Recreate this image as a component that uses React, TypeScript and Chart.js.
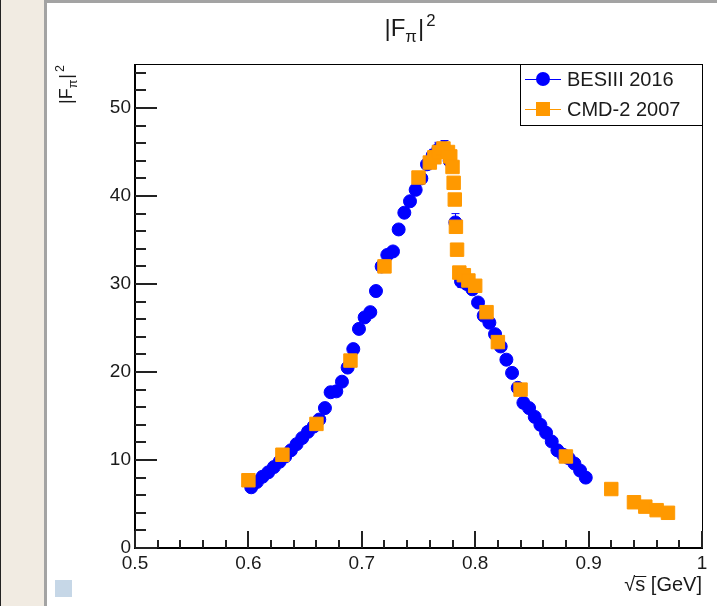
import React, { useEffect, useRef } from "react";
import { Chart, registerables } from "chart.js";

Chart.register(...registerables);

// ---- data ----
const besX = [
  0.6025, 0.6075, 0.6125, 0.6175, 0.6225, 0.6275, 0.6325, 0.6375, 0.6425, 0.6475,
  0.6525, 0.6575, 0.6625, 0.6675, 0.6725, 0.6775, 0.6825, 0.6875, 0.6925, 0.6975,
  0.7025, 0.7075, 0.7125, 0.7175, 0.7225, 0.7275, 0.7325, 0.7375, 0.7425, 0.7475,
  0.7525, 0.7575, 0.7625, 0.7675, 0.7725, 0.7775, 0.7825, 0.7875, 0.7925, 0.7975,
  0.8025, 0.8075, 0.8125, 0.8175, 0.8225, 0.8275, 0.8325, 0.8375, 0.8425, 0.8475,
  0.8525, 0.8575, 0.8625, 0.8675, 0.8725, 0.8775, 0.8825, 0.8875, 0.8925, 0.8975,
];
const besY = [
  6.9, 7.5, 8.1, 8.6, 9.2, 9.8, 10.4, 11.1, 11.8, 12.5,
  13.2, 13.8, 14.6, 15.9, 17.7, 17.8, 18.9, 20.5, 22.6, 24.9,
  26.2, 26.8, 29.2, 32.0, 33.3, 33.7, 36.2, 38.1, 39.4, 40.7,
  42.0, 43.6, 44.6, 45.3, 45.5, 44.0, 37.0, 30.3, 30.0, 29.4,
  27.9, 26.4, 25.6, 24.3, 22.9, 21.4, 19.9, 18.2, 16.5, 15.9,
  14.9, 14.0, 13.1, 12.1, 11.1, 10.6, 10.2, 9.6, 8.8, 8.0,
];
const besErr = [
  0.2, 0.2, 0.2, 0.2, 0.2, 0.2, 0.2, 0.2, 0.2, 0.2,
  0.2, 0.2, 0.2, 0.2, 0.3, 0.3, 0.3, 0.3, 0.3, 0.3,
  0.3, 0.3, 0.3, 0.4, 0.4, 0.4, 0.4, 0.4, 0.5, 0.5,
  0.5, 0.6, 0.7, 0.8, 0.8, 0.7, 1.0, 0.7, 0.5, 0.5,
  0.4, 0.4, 0.4, 0.3, 0.3, 0.3, 0.3, 0.3, 0.3, 0.3,
  0.2, 0.2, 0.2, 0.2, 0.2, 0.2, 0.2, 0.2, 0.2, 0.2,
];
const cmdX = [
  0.6, 0.63, 0.66, 0.69, 0.72, 0.75, 0.76, 0.764, 0.768, 0.772,
  0.776, 0.778, 0.78, 0.781, 0.782, 0.783, 0.784, 0.786, 0.79, 0.794,
  0.8, 0.81, 0.82, 0.84, 0.88, 0.92, 0.94, 0.95, 0.96, 0.97,
];
const cmdY = [
  7.7, 10.6, 14.1, 21.3, 32.0, 42.1, 43.8, 44.4, 45.0, 45.4,
  45.0, 44.5, 43.3, 41.5, 39.6, 36.5, 33.9, 31.3, 31.0, 30.4,
  29.8, 26.8, 23.4, 18.0, 10.4, 6.7, 5.2, 4.7, 4.3, 4.0,
];
const xTicks = [0.5, 0.6, 0.7, 0.8, 0.9, 1.0];
const xTickLabels = ["0.5", "0.6", "0.7", "0.8", "0.9", "1"];
const yTicks = [0, 10, 20, 30, 40, 50];
const seriesNames = ["BESIII 2016", "CMD-2 2007"];

const FONT = '"Liberation Sans", Arial, sans-serif';
const BLUE = "#0000ff";
const ORANGE = "#ff9900";
const TEXT = "#1a1a1a";

function drawFpi(ctx: CanvasRenderingContext2D, x: number, y: number, size: number) {
  const small = size * 0.7;
  let w = 0;
  ctx.font = `${size}px ${FONT}`;
  ctx.fillText("|F", x, y);
  w += ctx.measureText("|F").width;
  ctx.font = `${small}px ${FONT}`;
  ctx.fillText("\u03c0", x + w, y + size * 0.25);
  w += ctx.measureText("\u03c0").width + 1;
  ctx.font = `${size}px ${FONT}`;
  ctx.fillText("|", x + w, y);
  w += ctx.measureText("|").width + 2;
  ctx.font = `${small}px ${FONT}`;
  ctx.fillText("2", x + w, y - size * 0.42);
  w += ctx.measureText("2").width;
  return w;
}

function fpiWidth(ctx: CanvasRenderingContext2D, size: number) {
  const small = size * 0.7;
  ctx.font = `${size}px ${FONT}`;
  let w = ctx.measureText("|F").width + ctx.measureText("|").width + 3;
  ctx.font = `${small}px ${FONT}`;
  w += ctx.measureText("\u03c0").width + ctx.measureText("2").width;
  return w;
}

const rootPlugin = {
  id: "rootStyle",
  beforeDatasetsDraw(chart: any) {
    const ctx = chart.ctx as CanvasRenderingContext2D;
    const xs = chart.scales.x;
    const ys = chart.scales.y;
    ctx.save();
    ctx.strokeStyle = BLUE;
    ctx.lineWidth = 1;
    for (let i = 0; i < besX.length; i++) {
      const px = Math.round(xs.getPixelForValue(besX[i])) + 0.5;
      const top = ys.getPixelForValue(besY[i] + besErr[i]);
      const bot = ys.getPixelForValue(besY[i] - besErr[i]);
      ctx.beginPath();
      ctx.moveTo(px, top);
      ctx.lineTo(px, bot);
      ctx.moveTo(px - 4, top);
      ctx.lineTo(px + 4, top);
      ctx.moveTo(px - 4, bot);
      ctx.lineTo(px + 4, bot);
      ctx.stroke();
    }
    ctx.restore();
  },
  afterDraw(chart: any) {
    const ctx = chart.ctx as CanvasRenderingContext2D;
    const a = chart.chartArea;
    const xs = chart.scales.x;
    const ys = chart.scales.y;
    ctx.save();
    // frame
    ctx.strokeStyle = "#000";
    ctx.lineWidth = 1;
    ctx.strokeRect(a.left + 0.5, a.top + 0.5, a.right - a.left, a.bottom - a.top);
    ctx.lineWidth = 2;
    ctx.beginPath();
    ctx.moveTo(a.left, a.top);
    ctx.lineTo(a.left, a.bottom);
    ctx.lineTo(a.right + 1, a.bottom);
    ctx.stroke();
    // y ticks (inward)
    ctx.lineWidth = 2;
    ctx.strokeStyle = "#222";
    for (let v = 0; v <= 54; v += 2) {
      const py = Math.round(ys.getPixelForValue(v));
      const len = v % 10 === 0 ? 22 : 11;
      ctx.beginPath();
      ctx.moveTo(a.left, py);
      ctx.lineTo(a.left + len, py);
      ctx.stroke();
    }
    // x ticks (inward)
    for (let k = 0; k <= 25; k++) {
      const v = 0.5 + k * 0.02;
      const px = Math.round(xs.getPixelForValue(v));
      const len = k % 5 === 0 ? 17 : 8;
      ctx.beginPath();
      ctx.moveTo(px, a.bottom);
      ctx.lineTo(px, a.bottom - len);
      ctx.stroke();
    }
    // title
    ctx.fillStyle = TEXT;
    ctx.textBaseline = "alphabetic";
    ctx.textAlign = "left";
    const tw = fpiWidth(ctx, 24);
    drawFpi(ctx, 363 - tw / 2, 33, 24);
    // y axis title
    ctx.save();
    ctx.translate(25, 101);
    ctx.rotate(-Math.PI / 2);
    drawFpi(ctx, 0, 0, 18);
    ctx.restore();
    // x axis title
    ctx.font = `20px ${FONT}`;
    ctx.textAlign = "right";
    const xt = "\u221as [GeV]";
    ctx.fillText(xt, a.right, 588);
    const full = ctx.measureText(xt).width;
    const rest = ctx.measureText("s [GeV]").width;
    const sW = ctx.measureText("s").width;
    const sx = a.right - rest;
    ctx.lineWidth = 1;
    ctx.strokeStyle = TEXT;
    ctx.beginPath();
    ctx.moveTo(sx - 1, 573.5);
    ctx.lineTo(sx + sW + 1, 573.5);
    ctx.stroke();
    void full;
    // legend
    const lx = 473, ly = 61, lr = 655, lb = 122;
    ctx.fillStyle = "#fff";
    ctx.fillRect(lx, ly, lr - lx, lb - ly);
    ctx.strokeStyle = "#000";
    ctx.lineWidth = 1;
    ctx.strokeRect(lx + 0.5, ly + 0.5, lr - lx, lb - ly);
    const rows = [76, 106];
    const cols = [BLUE, ORANGE];
    for (let i = 0; i < 2; i++) {
      const cy = rows[i];
      ctx.strokeStyle = cols[i];
      ctx.lineWidth = 1;
      ctx.beginPath();
      ctx.moveTo(478, cy + 0.5);
      ctx.lineTo(514, cy + 0.5);
      ctx.stroke();
      ctx.fillStyle = cols[i];
      if (i === 0) {
        ctx.beginPath();
        ctx.arc(496, cy, 7, 0, Math.PI * 2);
        ctx.fill();
      } else {
        ctx.fillRect(489, cy - 7, 14, 14);
      }
      ctx.fillStyle = TEXT;
      ctx.font = `20px ${FONT}`;
      ctx.textAlign = "left";
      ctx.textBaseline = "middle";
      ctx.fillText(seriesNames[i], 520, cy + 1);
    }
    ctx.restore();
  },
};

export default function App() {
  const ref = useRef<HTMLCanvasElement | null>(null);
  useEffect(() => {
    if (!ref.current) return;
    const chart = new Chart(ref.current, {
      type: "scatter",
      data: {
        datasets: [
          {
            label: seriesNames[0],
            data: besX.map((x, i) => ({ x, y: besY[i] })),
            backgroundColor: BLUE,
            borderColor: BLUE,
            pointStyle: "circle",
            pointRadius: 6.5,
            pointBorderWidth: 1,
            order: 1,
          },
          {
            label: seriesNames[1],
            data: cmdX.map((x, i) => ({ x, y: cmdY[i] })),
            backgroundColor: ORANGE,
            borderColor: ORANGE,
            pointStyle: "rect",
            pointRadius: 9.5,
            pointBorderWidth: 1,
            order: 0,
          },
        ],
      },
      options: {
        animation: false,
        responsive: false,
        devicePixelRatio: 1,
        layout: { padding: { top: 61, right: 15, bottom: 0, left: 0 } },
        plugins: {
          legend: { display: false },
          title: { display: false },
          tooltip: { enabled: false },
        },
        scales: {
          x: {
            type: "linear",
            min: 0.5,
            max: 1.0,
            grid: { display: false, drawTicks: false },
            border: { display: false },
            afterBuildTicks: (s: any) => {
              s.ticks = xTicks.map((v) => ({ value: v }));
            },
            afterFit: (s: any) => {
              s.height = 58;
            },
            ticks: {
              padding: 4,
              color: TEXT,
              font: { family: FONT, size: 19 },
              maxRotation: 0,
              autoSkip: false,
              callback: (v: any) => {
                const i = xTicks.findIndex((t) => Math.abs(t - Number(v)) < 1e-6);
                return i >= 0 ? xTickLabels[i] : "";
              },
            },
          },
          y: {
            type: "linear",
            min: 0,
            max: 55,
            grid: { display: false, drawTicks: false },
            border: { display: false },
            afterBuildTicks: (s: any) => {
              s.ticks = yTicks.map((v) => ({ value: v }));
            },
            afterFit: (s: any) => {
              s.width = 88;
            },
            ticks: {
              padding: 4,
              color: TEXT,
              font: { family: FONT, size: 19 },
              autoSkip: false,
              callback: (v: any) => String(v),
            },
          },
        },
      },
      plugins: [rootPlugin],
    } as any);
    return () => chart.destroy();
  }, []);

  return (
    <div
      style={{
        position: "fixed",
        left: 0,
        top: 0,
        width: 717,
        height: 606,
        background: "#ffffff",
        overflow: "hidden",
      }}
    >
      <div style={{ position: "absolute", left: 0, top: 0, width: 44, height: 606, background: "#f1ebe2" }} />
      <div style={{ position: "absolute", left: 0, top: 0, width: 1, height: 606, background: "#222" }} />
      <div style={{ position: "absolute", left: 44, top: 0, width: 3, height: 606, background: "#a3a3a3" }} />
      <div style={{ position: "absolute", left: 44, top: 0, width: 673, height: 3, background: "#a3a3a3" }} />
      <div style={{ position: "absolute", left: 55, top: 580, width: 17, height: 17, background: "#c6d7e7" }} />
      <canvas
        ref={ref}
        width={670}
        height={603}
        style={{ position: "absolute", left: 47, top: 3, width: 670, height: 603 }}
      />
    </div>
  );
}
